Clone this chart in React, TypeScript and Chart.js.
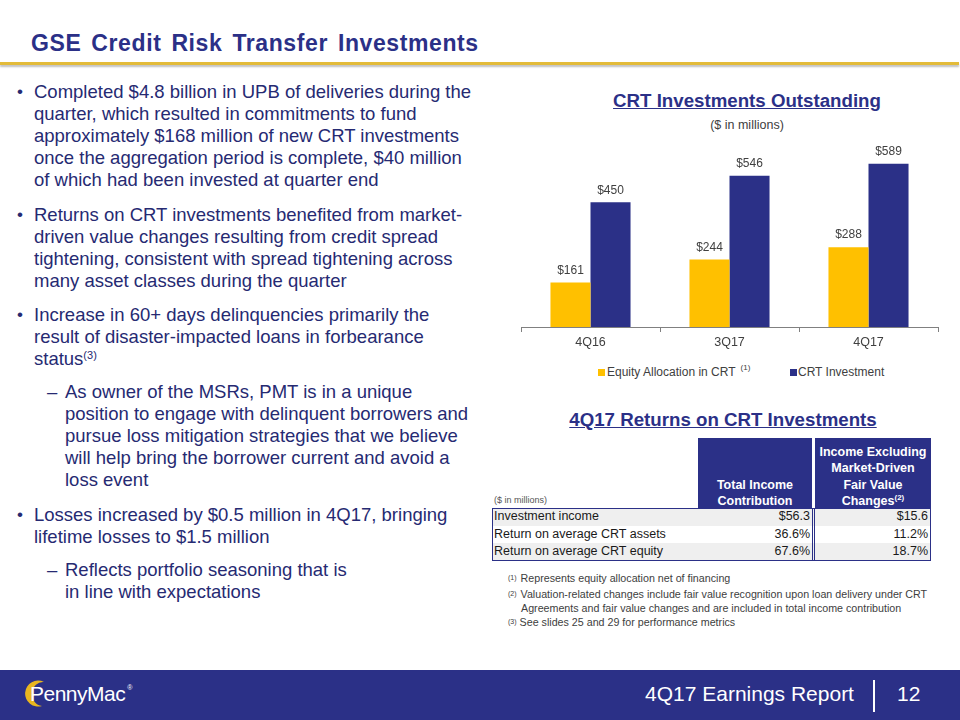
import React, { useEffect, useRef } from "react";
import { Chart, registerables } from "chart.js";

Chart.register(...registerables);

// ---- Chart data ----
const categories = ["4Q16", "3Q17", "4Q17"];
const equityAllocation = [161, 244, 288];
const crtInvestment = [450, 546, 589];
const seriesLabels = ["Equity Allocation in CRT", "CRT Investment"];
const seriesColors = ["#FFC000", "#2B3087"];

// ---- Table data ----
const tableRowLabels = ["Investment income", "Return on average CRT assets", "Return on average CRT equity"];
const totalIncomeValues = ["$56.3", "36.6%", "67.6%"];
const excludingValues = ["$15.6", "11.2%", "18.7%"];

const NAVY = "#2B3087";
const TEXT = "#262A72";
const FONT = "'Liberation Sans', Arial, Helvetica, sans-serif";

const valueLabels = {
  id: "valueLabels",
  afterDatasetsDraw(chart: any) {
    const ctx = chart.ctx;
    ctx.save();
    ctx.font = `12px ${FONT}`;
    ctx.fillStyle = "#404040";
    ctx.textAlign = "center";
    ctx.textBaseline = "bottom";
    chart.data.datasets.forEach((ds: any, i: number) => {
      const meta = chart.getDatasetMeta(i);
      meta.data.forEach((bar: any, j: number) => {
        ctx.fillText("$" + ds.data[j], bar.x, bar.y - 6);
      });
    });
    ctx.restore();
  },
};

function BarChart() {
  const ref = useRef<HTMLCanvasElement | null>(null);
  useEffect(() => {
    if (!ref.current) return;
    const chart = new Chart(ref.current, {
      type: "bar",
      data: {
        labels: categories,
        datasets: [
          { label: seriesLabels[0], data: equityAllocation, backgroundColor: seriesColors[0], categoryPercentage: 0.576, barPercentage: 1.0 },
          { label: seriesLabels[1], data: crtInvestment, backgroundColor: seriesColors[1], categoryPercentage: 0.576, barPercentage: 1.0 },
        ],
      },
      options: {
        responsive: false,
        animation: false,
        layout: { padding: { left: 10, right: 10, top: 0, bottom: 0 } },
        plugins: { legend: { display: false }, tooltip: { enabled: false }, title: { display: false } },
        scales: {
          y: { display: false, min: 0, max: 700 },
          x: {
            afterFit: (scale: any) => {
              scale.height = 26;
            },
            grid: { offset: true, drawOnChartArea: false, drawTicks: true, tickLength: 5, color: "#808080" },
            border: { display: true, color: "#808080", width: 1 },
            ticks: { color: "#404040", font: { family: FONT, size: 12.5 }, padding: 3 },
          },
        },
      },
      plugins: [valueLabels],
    } as any);
    return () => chart.destroy();
  }, []);
  return (
    <canvas
      ref={ref}
      width={437}
      height={220}
      style={{ position: "absolute", left: 511, top: 133, width: 437, height: 220 }}
    />
  );
}

const abs = (s: React.CSSProperties): React.CSSProperties => ({ position: "absolute", whiteSpace: "nowrap", ...s });

const BODY_SIZE = 18.5;

function Para({ top, left, lines, marker, markerLeft }: { top: number; left: number; lines: React.ReactNode[]; marker: string; markerLeft: number }) {
  return (
    <>
      <div style={abs({ top, left: markerLeft, fontSize: marker === "•" ? 17 : BODY_SIZE, lineHeight: "22px", color: TEXT })}>{marker}</div>
      <div style={abs({ top, left, fontSize: BODY_SIZE, lineHeight: "22px", color: TEXT })}>
        {lines.map((l, i) => (
          <div key={i}>{l}</div>
        ))}
      </div>
    </>
  );
}

export default function App() {
  const rowTop = 508;
  const rowH = 17.5;
  return (
    <div
      style={{
        position: "absolute",
        left: 0,
        top: 0,
        width: 960,
        height: 720,
        overflow: "hidden",
        background: "#ffffff",
        fontFamily: FONT,
      }}
    >
      {/* Title */}
      <div
        style={abs({
          left: 31,
          top: 29,
          fontSize: 23,
          fontWeight: "bold",
          color: NAVY,
          lineHeight: "28px",
          letterSpacing: 0.6,
          wordSpacing: 3,
        })}
      >
        GSE Credit Risk Transfer Investments
      </div>
      <div style={abs({ left: 0, top: 62, width: 959, height: 3, background: "#E3BB3A", boxShadow: "0 2px 2px rgba(0,0,0,0.25)" })} />

      {/* Left text */}
      <Para
        top={81}
        left={34}
        markerLeft={17}
        marker="•"
        lines={[
          "Completed $4.8 billion in UPB of deliveries during the",
          "quarter, which resulted in commitments to fund",
          "approximately $168 million of new CRT investments",
          "once the aggregation period is complete, $40 million",
          "of which had been invested at quarter end",
        ]}
      />
      <Para
        top={204}
        left={34}
        markerLeft={17}
        marker="•"
        lines={[
          "Returns on CRT investments benefited from market-",
          "driven value changes resulting from credit spread",
          "tightening, consistent with spread tightening across",
          "many asset classes during the quarter",
        ]}
      />
      <Para
        top={304}
        left={34}
        markerLeft={17}
        marker="•"
        lines={[
          "Increase in 60+ days delinquencies primarily the",
          "result of disaster-impacted loans in forbearance",
          <span>
            status<sup style={{ fontSize: 11, verticalAlign: "6px", lineHeight: 0 }}>(3)</sup>
          </span>,
        ]}
      />
      <Para
        top={381}
        left={65}
        markerLeft={47}
        marker="–"
        lines={[
          "As owner of the MSRs, PMT is in a unique",
          "position to engage with delinquent borrowers and",
          "pursue loss mitigation strategies that we believe",
          "will help bring the borrower current and avoid a",
          "loss event",
        ]}
      />
      <Para
        top={504}
        left={34}
        markerLeft={17}
        marker="•"
        lines={["Losses increased by $0.5 million in 4Q17, bringing", "lifetime losses to $1.5 million"]}
      />
      <Para top={559} left={65} markerLeft={47} marker="–" lines={["Reflects portfolio seasoning that is", "in line with expectations"]} />

      {/* Chart titles */}
      <div
        style={abs({
          left: 547,
          width: 400,
          top: 89,
          textAlign: "center",
          fontSize: 18.7,
          fontWeight: "bold",
          color: NAVY,
          textDecoration: "underline",
          lineHeight: "23px",
        })}
      >
        CRT Investments Outstanding
      </div>
      <div style={abs({ left: 547, width: 400, top: 118, textAlign: "center", fontSize: 12.5, color: "#404040", lineHeight: "15px" })}>
        ($ in millions)
      </div>

      <BarChart />

      {/* Legend */}
      <div style={abs({ left: 598, top: 369, width: 7, height: 7, background: seriesColors[0] })} />
      <div style={abs({ left: 607, top: 364, fontSize: 12, lineHeight: "16px", color: "#404040" })}>
        {seriesLabels[0]}
        <span style={{ fontSize: 8, position: "relative", top: -6, marginLeft: 5 }}>(1)</span>
      </div>
      <div style={abs({ left: 790, top: 369, width: 7, height: 7, background: seriesColors[1] })} />
      <div style={abs({ left: 798, top: 364, fontSize: 12, lineHeight: "16px", color: "#404040" })}>{seriesLabels[1]}</div>

      {/* Table title */}
      <div
        style={abs({
          left: 523,
          width: 400,
          top: 408,
          textAlign: "center",
          fontSize: 18.7,
          fontWeight: "bold",
          color: NAVY,
          textDecoration: "underline",
          lineHeight: "23px",
        })}
      >
        4Q17 Returns on CRT Investments
      </div>

      {/* Table header */}
      <div style={abs({ left: 698, top: 438, width: 114, height: 70, background: NAVY })} />
      <div style={abs({ left: 815, top: 438, width: 116, height: 70, background: NAVY })} />
      <div
        style={abs({
          left: 698,
          width: 114,
          top: 477,
          textAlign: "center",
          color: "#fff",
          fontWeight: "bold",
          fontSize: 12.5,
          lineHeight: "16.3px",
        })}
      >
        Total Income
        <br />
        Contribution
      </div>
      <div
        style={abs({
          left: 815,
          width: 116,
          top: 444,
          textAlign: "center",
          color: "#fff",
          fontWeight: "bold",
          fontSize: 12.5,
          lineHeight: "16.3px",
        })}
      >
        Income Excluding
        <br />
        Market-Driven
        <br />
        Fair Value
        <br />
        Changes<span style={{ fontSize: 8, position: "relative", top: -5 }}>(2)</span>
      </div>
      <div style={abs({ left: 494, top: 494, fontSize: 9, color: "#555", lineHeight: "12px" })}>($ in millions)</div>

      {/* Table rows */}
      {tableRowLabels.map((lab, i) => (
        <React.Fragment key={i}>
          <div
            style={abs({
              left: 492,
              top: rowTop + i * rowH,
              width: 439,
              height: rowH,
              background: i % 2 === 0 ? "#EFEFEF" : "#FFFFFF",
            })}
          />
          <div style={abs({ left: 494, top: rowTop + i * rowH, fontSize: 12.5, lineHeight: `${rowH}px`, color: "#1a1a1a" })}>{lab}</div>
          <div
            style={abs({
              left: 700,
              width: 110,
              textAlign: "right",
              top: rowTop + i * rowH,
              fontSize: 12.5,
              lineHeight: `${rowH}px`,
              color: "#1a1a1a",
            })}
          >
            {totalIncomeValues[i]}
          </div>
          <div
            style={abs({
              left: 817,
              width: 111,
              textAlign: "right",
              top: rowTop + i * rowH,
              fontSize: 12.5,
              lineHeight: `${rowH}px`,
              color: "#1a1a1a",
            })}
          >
            {excludingValues[i]}
          </div>
        </React.Fragment>
      ))}
      <div
        style={abs({
          left: 492,
          top: rowTop,
          width: 439,
          height: rowH * 3,
          border: `1px solid ${NAVY}`,
          boxSizing: "border-box",
        })}
      />
      <div style={abs({ left: 812, top: rowTop, width: 1, height: rowH * 3, background: NAVY })} />
      <div style={abs({ left: 814, top: rowTop, width: 1, height: rowH * 3, background: NAVY })} />

      {/* Footnotes */}
      <div style={abs({ left: 508, top: 571, fontSize: 10.7, lineHeight: "14px", color: "#404040" })}>
        <span style={{ fontSize: 7, position: "relative", top: -2, marginRight: 4 }}>(1)</span>Represents equity allocation net of financing
      </div>
      <div style={abs({ left: 508, top: 587, fontSize: 10.7, lineHeight: "14px", color: "#404040" })}>
        <span style={{ fontSize: 7, position: "relative", top: -2, marginRight: 4 }}>(2)</span>Valuation-related changes include fair value recognition upon loan delivery under CRT
      </div>
      <div style={abs({ left: 521, top: 601, fontSize: 10.7, lineHeight: "14px", color: "#404040" })}>
        Agreements and fair value changes and are included in total income contribution
      </div>
      <div style={abs({ left: 508, top: 615, fontSize: 10.7, lineHeight: "14px", color: "#404040" })}>
        <span style={{ fontSize: 7, position: "relative", top: -2, marginRight: 3 }}>(3)</span>See slides 25 and 29 for performance metrics
      </div>

      {/* Footer */}
      <div style={abs({ left: 0, top: 670, width: 960, height: 50, background: NAVY })} />
      <svg style={{ position: "absolute", left: 18, top: 676 }} width={40} height={36} viewBox="0 0 40 36">
        <path d="M 26 6 A 13 13 0 1 0 24 30 A 11 12 0 1 1 26 6 Z" fill="#E9B620" />
      </svg>
      <div style={abs({ left: 30, top: 681, fontSize: 21, color: "#fff", lineHeight: "26px", letterSpacing: -0.5 })}>
        PennyMac<span style={{ fontSize: 7, position: "relative", top: -11, marginLeft: 2 }}>®</span>
      </div>
      <div style={abs({ left: 645, top: 681, fontSize: 21, color: "#fff", lineHeight: "26px" })}>4Q17 Earnings Report</div>
      <div style={abs({ left: 873, top: 680, width: 1.5, height: 32, background: "#fff" })} />
      <div style={abs({ left: 897, top: 681, fontSize: 21, color: "#fff", lineHeight: "26px" })}>12</div>
    </div>
  );
}
